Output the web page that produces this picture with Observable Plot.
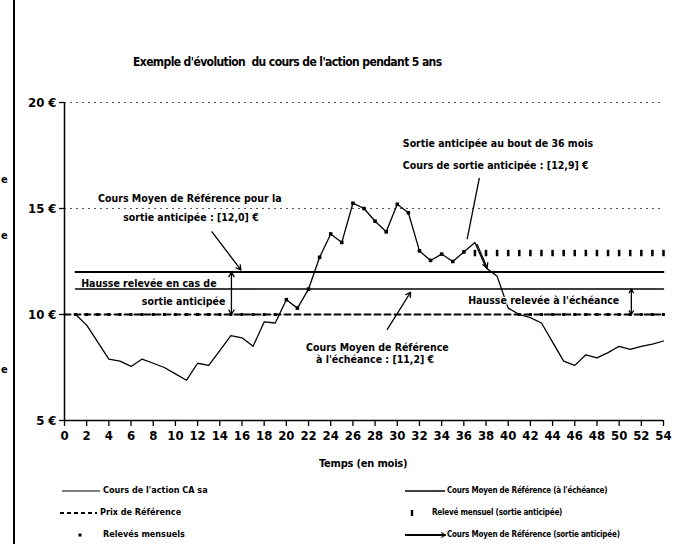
<!DOCTYPE html>
<html><head><meta charset="utf-8">
<script src="https://cdn.jsdelivr.net/npm/d3@7"></script>
<script src="https://cdn.jsdelivr.net/npm/@observablehq/plot@0.6"></script>
<style>
body{margin:0;background:#fff;}
#wrap{position:relative;width:678px;height:544px;overflow:hidden;background:#fff;font-family:"Liberation Sans Narrow","Arial Narrow","DejaVu Sans Condensed","Liberation Sans",sans-serif;}
#frame{position:absolute;left:13px;top:0;width:2px;height:544px;background:#000;}
.t{position:absolute;font-weight:bold;white-space:nowrap;color:#000;line-height:1;}
.lg{position:absolute;font-weight:bold;white-space:nowrap;color:#000;font-size:9px;line-height:1;}
.lr{font-size:8px;letter-spacing:-0.2px;}
svg.sym{position:absolute;overflow:visible;}
#chart{position:absolute;left:0;top:0;}
</style></head><body>
<div id="wrap">
  <div id="chart"></div>
  <div id="frame"></div>
  <div class="t" style="left:1px;top:174px;font-size:11px;">e</div>
  <div class="t" style="left:1px;top:230px;font-size:11px;">e</div>
  <div class="t" style="left:1px;top:364px;font-size:11px;">e</div>
  <div class="t" id="title" style="left:133px;top:56px;font-size:12px;letter-spacing:-0.6px;">Exemple d'évolution&nbsp; du cours de l'action pendant 5 ans</div>
  <div class="t" id="xlabel" style="left:319px;top:458px;font-size:11px;letter-spacing:-0.2px;">Temps (en mois)</div>

  <svg class="sym" style="left:62px;top:491px" width="40" height="2"><line x1="0" y1="0" x2="38" y2="0" stroke="#000" stroke-width="1.2"/></svg>
  <div class="lg" style="left:103px;top:486px;">Cours de l'action CA sa</div>
  <svg class="sym" style="left:60px;top:513px" width="40" height="2"><line x1="0" y1="0" x2="37" y2="0" stroke="#000" stroke-width="2" stroke-dasharray="4,3"/></svg>
  <div class="lg" style="left:100px;top:508px;">Prix de Référence</div>
  <svg class="sym" style="left:80px;top:535px" width="4" height="4"><rect x="-1.5" y="-1.5" width="3" height="3" fill="#000"/></svg>
  <div class="lg" style="left:103px;top:530px;">Relevés mensuels</div>

  <svg class="sym" style="left:405px;top:491px" width="40" height="2"><line x1="0" y1="0" x2="40" y2="0" stroke="#000" stroke-width="1.3"/></svg>
  <div class="lg lr" style="left:447px;top:487px;">Cours Moyen de Référence (à l'échéance)</div>
  <svg class="sym" style="left:412px;top:513px" width="4" height="6"><rect x="-1.2" y="-3" width="2.4" height="6" fill="#000"/></svg>
  <div class="lg lr" style="left:432px;top:509px;">Relevé mensuel (sortie anticipée)</div>
  <svg class="sym" style="left:405px;top:535px" width="42" height="4"><line x1="0" y1="0" x2="40" y2="0" stroke="#000" stroke-width="1.8"/><path d="M36,-2.5L41,0L36,2.5" fill="none" stroke="#000" stroke-width="1"/></svg>
  <div class="lg lr" style="left:447px;top:531px;">Cours Moyen de Référence (sortie anticipée)</div>
</div>
<script>
// ---- data ----
const mois = [1,2,3,4,5,6,7,8,9,10,11,12,13,14,15,16,17,18,19,20,21,22,23,24,25,26,27,28,29,30,31,32,33,34,35,36,37,38,39,40,41,42,43,44,45,46,47,48,49,50,51,52,53,54];
const cours = [10.0,9.5,8.7,7.9,7.8,7.55,7.9,7.7,7.5,7.2,6.9,7.7,7.6,8.3,9.0,8.9,8.5,9.65,9.6,10.7,10.3,11.2,12.7,13.8,13.4,15.25,15.0,14.4,13.9,15.2,14.8,13.0,12.55,12.85,12.5,12.95,13.4,12.2,11.8,10.3,10.0,9.85,9.6,8.7,7.8,7.6,8.1,7.95,8.2,8.5,8.35,8.5,8.6,8.75];
const prixReference = 10;
const prixPeriode = [0, 54];
const relevesMensuels = [1,2,3,4,5,6,7,8,9,10,11,12,13,14,15,16,17,18,19,41,42,43,44,45,46,47,48,49,50,51,52,53,54];
const relevesSortie = [20,21,22,23,24,25,26,27,28,29,30,31,32,33,34,35,36];
const coursSortie = 12.9;
const moisApresSortie = [37,38,39,40,41,42,43,44,45,46,47,48,49,50,51,52,53,54];
const moyenSortie = 12.0;
const moyenEcheance = 11.2;
const periodeMoyenne = [1, 54];
const grille = [15, 20];
const xTicks = [0,2,4,6,8,10,12,14,16,18,20,22,24,26,28,30,32,34,36,38,40,42,44,46,48,50,52,54];
const yTicks = [5,10,15,20];

// annotations (data units: month, euro)
const annotations = [
  {x: 11.3, y: 15.45, text: "Cours Moyen de Référence pour la", anchor: "middle"},
  {x: 11.4, y: 14.55, text: "sortie anticipée : [12,0] €", anchor: "middle"},
  {x: 1.5,  y: 11.45, text: "Hausse relevée en cas de", anchor: "start"},
  {x: 14.5, y: 10.6,  text: "sortie anticipée", anchor: "end"},
  {x: 30.5, y: 18.05, text: "Sortie anticipée au bout de 36 mois", anchor: "start"},
  {x: 30.5, y: 17.0,  text: "Cours de sortie anticipée : [12,9] €", anchor: "start"},
  {x: 28.2, y: 8.45,  text: "Cours Moyen de Référence", anchor: "middle"},
  {x: 28.0, y: 7.85,  text: "à l'échéance : [11,2] €", anchor: "middle"},
  {x: 43.2, y: 10.65, text: "Hausse relevée à l'échéance", anchor: "middle"}
];
const fleches = [
  {x1: 13.3, y1: 13.9, x2: 15.9, y2: 12.1},
  {x1: 15.05, y1: 11.0, x2: 15.05, y2: 12.0},
  {x1: 15.05, y1: 11.0, x2: 15.05, y2: 10.0},
  {x1: 29.1, y1: 9.3, x2: 31.2, y2: 11.05},
  {x1: 51.1, y1: 10.6, x2: 51.1, y2: 11.2},
  {x1: 51.1, y1: 10.6, x2: 51.1, y2: 10.0},
  {x1: 37.2, y1: 13.3, x2: 38.1, y2: 12.2}
];
const traits = [
  {x1: 37.4, y1: 16.45, x2: 36.3, y2: 13.55}
];

// ---- build ----
const coursData = mois.map((m, i) => ({m, v: cours[i]}));
const coursMap = new Map(coursData.map(d => [d.m, d.v]));
const relevesSortieData = relevesSortie.map(m => ({m, v: coursMap.get(m)}));
const prixLine = prixPeriode.map(m => ({m, v: prixReference}));
const relevesData = relevesMensuels.map(m => ({m, v: prixReference}));
const sortieRow = moisApresSortie.map(m => ({m, v: coursSortie}));
const moyenS = periodeMoyenne.map(m => ({m, v: moyenSortie}));
const moyenE = periodeMoyenne.map(m => ({m, v: moyenEcheance}));

const FONT = '"Liberation Sans Narrow","Arial Narrow","DejaVu Sans Condensed","Liberation Sans",sans-serif';
const bar = {draw(ctx, size) { const s = Math.sqrt(size); const w = s * 0.55, h = s * 1.4; ctx.rect(-w/2, -h/2, w, h); }};
const textOpts = a => ({x: "x", y: "y", text: "text", textAnchor: a, fontSize: 10.5, fontWeight: "bold", fill: "#000", stroke: "#fff", strokeWidth: 2, paintOrder: "stroke"});

const chart = Plot.plot({
  width: 678, height: 544,
  marginLeft: 64, marginRight: 15, marginTop: 102, marginBottom: 124,
  style: {fontFamily: FONT, background: "transparent", color: "#000"},
  x: {domain: [0, 54]},
  y: {domain: [5, 20]},
  marks: [
    Plot.ruleY(grille, {stroke: "#555", strokeDasharray: "2,4", strokeWidth: 1}),
    Plot.axisX({ticks: xTicks, tickSize: 6, fontSize: 13, fontWeight: "bold", label: null, tickPadding: 4, strokeWidth: 1.3}),
    Plot.axisY({ticks: yTicks, tickFormat: d => d + " €", tickSize: 5, fontSize: 13, fontWeight: "bold", label: null, tickPadding: 3, strokeWidth: 1.3}),
    Plot.ruleY([5], {stroke: "#000", strokeWidth: 1.5}),
    Plot.ruleX([0], {stroke: "#000", strokeWidth: 1.5}),
    Plot.line(prixLine, {x: "m", y: "v", stroke: "#000", strokeWidth: 2, strokeDasharray: "6,4"}),
    Plot.dot(relevesData, {x: "m", y: "v", symbol: "square", r: 1.7, fill: "#000"}),
    Plot.line(moyenS, {x: "m", y: "v", stroke: "#000", strokeWidth: 2}),
    Plot.line(moyenE, {x: "m", y: "v", stroke: "#000", strokeWidth: 1.5}),
    Plot.line(coursData, {x: "m", y: "v", stroke: "#000", strokeWidth: 1.3}),
    Plot.dot(relevesSortieData, {x: "m", y: "v", symbol: "square", r: 2, fill: "#000"}),
    Plot.dot(sortieRow, {x: "m", y: "v", symbol: bar, r: 2.6, fill: "#000"}),
    Plot.link(traits, {x1: "x1", y1: "y1", x2: "x2", y2: "y2", stroke: "#000", strokeWidth: 1.3}),
    Plot.arrow(fleches, {x1: "x1", y1: "y1", x2: "x2", y2: "y2", stroke: "#000", strokeWidth: 1.3, headLength: 6}),
    Plot.text(annotations.filter(d => d.anchor === "start"), textOpts("start")),
    Plot.text(annotations.filter(d => d.anchor === "middle"), textOpts("middle")),
    Plot.text(annotations.filter(d => d.anchor === "end"), textOpts("end"))
  ]
});
document.getElementById("chart").appendChild(chart);
</script>
</body></html>
